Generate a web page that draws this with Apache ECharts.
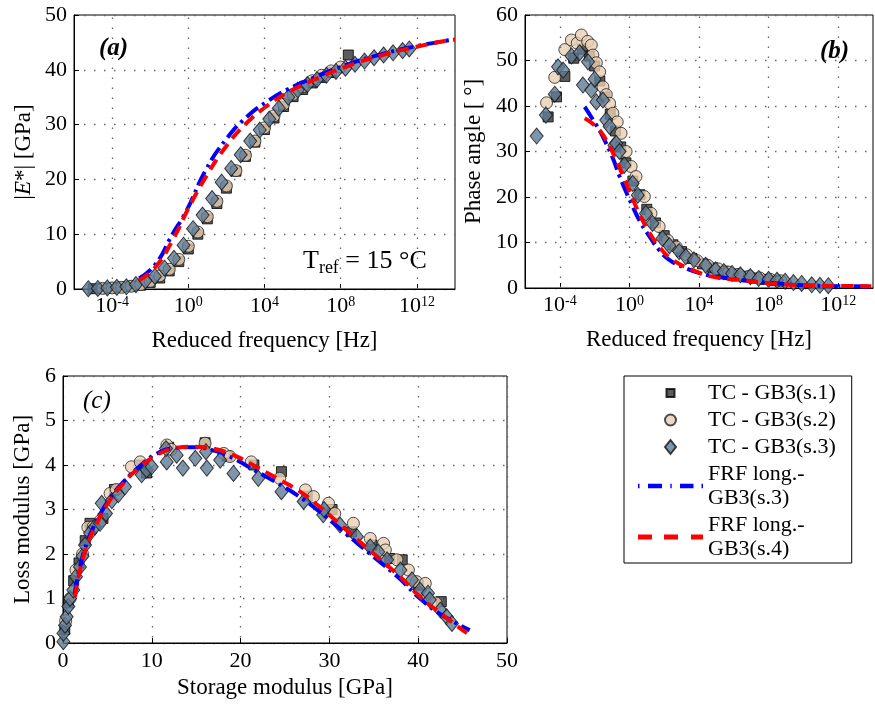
<!DOCTYPE html>
<html><head><meta charset="utf-8">
<script src="https://cdn.jsdelivr.net/npm/echarts@6/dist/echarts.min.js"></script>
<style>html,body{margin:0;padding:0;background:#fff}#c{width:875px;height:704px}</style>
</head><body><div id="c"></div>
<script>
// ---------- tick labels ----------
const freqTickExp = [-4, 0, 4, 8, 12];           // labels 10^n on reduced frequency axes
// ---------- series names ----------
const seriesNames = ['TC - GB3(s.1)', 'TC - GB3(s.2)', 'TC - GB3(s.3)', 'FRF long.-\nGB3(s.3)', 'FRF long.-\nGB3(s.4)'];

// ---------- panel (a): |E*| vs reduced frequency (x = log10 f) ----------
const a_s1_logf = [-5,-4.5,-4,-3.5,-3,-2.5,-2,-1.5,-1,-0.5,0,0.5,1,1.5,2,2.5,3,3.5,4,4.5,5,5.5,6,6.5,7,7.5,8.4];
const a_s1_E    = [0.05,0.1,0.2,0.35,0.5,0.7,1.2,2.0,3.3,5.0,7.3,10.0,12.8,15.6,18.4,21.5,24.2,26.8,29.1,31.2,33.3,35.1,36.4,37.6,38.6,39.5,42.7];
const a_s2_logf = [-4.5,-4,-3.5,-3,-2.5,-2,-1.5,-1,-0.5,0,0.5,1,1.5,2,2.5,3,3.5,4,4.5,5,5.5,6,6.5,7,7.5,8];
const a_s2_E    = [0.1,0.2,0.3,0.5,0.8,1.4,2.4,3.6,5.4,7.8,10.4,13.2,16.0,18.8,21.6,24.4,27.0,29.4,31.6,33.7,35.5,36.9,38.0,39.0,39.8,40.5];
const a_s3_logf = [-5.25,-4.75,-4.25,-3.75,-3.25,-2.75,-2.25,-1.75,-1.25,-0.75,-0.25,0.25,0.75,1.25,1.75,2.25,2.75,3.25,3.75,4.25,4.75,5.25,5.75,6.25,6.75,7.25,7.75,8.25,8.75,9.25,9.75,10.25,10.75,11.25,11.6];
const a_s3_E    = [0.05,0.1,0.2,0.3,0.4,0.8,1.5,2.3,3.8,5.6,8.0,11.0,13.5,16.5,19.5,22.0,24.5,27.0,29.0,31.0,33.0,35.0,36.3,37.3,38.2,39.0,39.7,40.3,41.0,41.6,42.2,42.7,43.1,43.5,43.8];
const a_frf3_logf = [-2.58,-1.7,-0.83,-0.12,0.93,1.98,3.04,4.09,5.14,6.54,8.3,10.2,11.97,13.7,14];
const a_frf3_E    = [1.9,4.6,10.0,14.1,21.8,27.3,31.3,34.1,36.3,38.5,40.9,42.9,44.3,45.4,45.5];
const a_frf4_logf = [-2.58,-1.7,-0.83,0.05,0.93,1.98,3.04,4.09,5.14,6.54,8.3,10.2,11.97,13.7,14];
const a_frf4_E    = [1.6,4.1,8.9,15.0,20.5,26.0,30.2,33.3,35.7,38.1,40.6,42.7,44.2,45.4,45.5];

// ---------- panel (b): phase angle vs reduced frequency ----------
const b_s1_logf = [-4.67,-4.19,-3.71,-3.2,-2.7,-2.3,-2.0,-1.7,-1.4,-1.1,-0.8,-0.5,-0.2,0.2,0.6,1.0,1.5,2.0,2.5,3.0,3.6,4.2,4.8,5.4,6.0,6.6,7.2,7.8,8.4];
const b_s1_ph   = [37.6,42,46.5,50.5,52.5,51,48.8,45.5,42,38.2,34.5,31,27.5,23.5,20.5,17.3,14.3,11.5,9.5,8.0,6.5,5.3,4.4,3.7,3.1,2.6,2.2,1.9,1.6];
const b_s2_logf = [-4.76,-4.29,-3.71,-3.33,-3.0,-2.76,-2.4,-2.19,-2.1,-1.9,-1.71,-1.52,-1.33,-1.14,-0.95,-0.7,-0.48,-0.19,0.1,0.38,0.86,1.24,1.71,2.2,2.7,3.3,3.9,4.5,5.1,5.7,6.3,6.9,7.5,8.1,8.7];
const b_s2_ph   = [40.7,46.3,52.4,54.5,53.8,55.6,54.2,53.4,51.2,49.5,47.5,44.2,42.5,40.6,38.4,36.5,34,30,26.7,24.5,20.1,16.4,13.5,10.5,9.0,7.3,6.0,5.0,4.2,3.5,3.0,2.6,2.2,1.9,1.6];
const b_s3_logf = [-5.33,-4.8,-4.29,-4.1,-3.81,-3.33,-2.86,-2.67,-2.38,-2.19,-2.0,-1.9,-1.52,-1.33,-1.14,-0.86,-0.76,-0.57,-0.29,0.19,0.48,0.95,1.33,1.9,2.3,2.86,3.24,3.71,4.38,4.95,5.43,5.9,6.38,6.95,7.43,8.0,8.48,8.95,9.43,9.9,10.48,10.95,11.43];
const b_s3_ph   = [33.4,38,42.6,48.6,47.9,51,51.7,44.6,49.7,43.5,45.9,40.9,41.3,36.9,35.5,31.4,31.8,30,27,23,20.4,16.4,14.2,10.9,9.3,8.0,6.9,6.2,5.0,4.0,3.6,3.2,2.9,2.5,2.1,1.9,1.7,1.5,1.2,1.0,0.7,0.6,0.5];
const b_frf3_logf = [-2.57,-1.9,-1.52,-0.95,-0.57,0.19,0.7,1.14,1.7,2.29,3.2,4.3,5.5,7,8.5,10,12,14];
const b_frf3_ph   = [39.8,35.8,33.2,28.5,24.6,17.9,14,11.4,8.4,6.2,4.4,3.0,2.2,1.5,1.0,0.6,0.4,0.35];
const b_frf4_logf = [-2.57,-1.9,-1.33,-0.76,-0.19,0.38,0.95,1.71,2.48,3.62,4.76,6.29,8.19,10.1,12,13.9];
const b_frf4_ph   = [37.3,35.4,32.5,28.1,23,17.9,13.5,9.1,6.2,4,2.5,1.8,1.0,0.6,0.45,0.4];

// ---------- panel (c): loss modulus vs storage modulus ----------
const c_s1_E1 = [0.2,0.6,1.2,1.8,2.5,3.04,4.5,5.8,8.7,9.4,11.9,16.0,18.5,21.5,24.6,27.5,30.3,32.5,34.8,36.8,38.2,40.0,42.6];
const c_s1_E2 = [0.3,0.9,1.4,1.8,2.3,2.69,2.8,3.45,4.0,3.82,4.4,4.5,4.2,4.0,3.85,3.3,3.0,2.5,2.2,1.9,1.87,1.3,0.93];
const c_s2_E1 = [0.3,0.8,1.46,2.2,2.8,3.4,4.2,5.3,6.0,7.7,8.7,11.7,12.2,16.0,18.1,18.8,21.2,24.4,27.3,28.2,29.9,30.6,32.7,34.6,36.1,36.3,37.6,38.9,39.8,40.8,42.0];
const c_s2_E2 = [0.5,1.0,1.64,2.0,2.6,2.61,2.75,3.36,3.45,3.96,4.07,4.45,4.35,4.49,4.26,4.19,4.07,3.7,3.44,3.29,3.14,2.91,2.69,2.35,2.24,2.09,1.87,1.64,1.38,1.34,0.9];
const c_s3_E1 = [0.04,0.05,0.23,0.41,0.6,0.79,1.16,1.46,1.91,2.2,2.48,3.04,3.6,4.17,4.36,4.84,5.5,6.23,6.98,8.86,9.43,9.99,11.68,11.6,12.8,13.5,14.9,16.2,16.1,17.7,19.2,22.0,24.6,27.1,29.3,29.4,31.2,33.1,34.6,35.5,36.5,38.0,39.3,40.2,41.1,41.3,42.5,43.2,43.8];
const c_s3_E2 = [0.03,0.22,0.40,0.59,0.82,1.0,1.19,1.49,1.71,1.95,2.2,2.47,2.61,2.69,3.14,2.91,3.2,3.33,3.51,3.78,3.89,3.96,4.07,4.37,4.22,3.93,4.15,3.93,4.3,4.11,3.81,3.7,3.4,3.18,2.88,3.0,2.65,2.39,2.16,2.05,1.87,1.64,1.42,1.19,1.12,0.97,0.74,0.59,0.44];
const c_frf3_E1 = [1.3,1.9,2.7,3.8,5.3,6.8,8.7,10.5,12.4,14.7,16.9,19.2,21.4,24.1,26.7,28.9,31.9,34.9,37.9,40.2,42.5,45.8];
const c_frf3_E2 = [1.1,1.7,2.25,2.75,3.25,3.62,3.98,4.25,4.38,4.4,4.33,4.15,3.9,3.6,3.28,2.95,2.45,1.95,1.45,1.0,0.65,0.29];
const c_frf4_E1 = [1.35,1.91,2.67,3.8,5.29,6.79,8.67,10.55,12.4,14.7,16.9,19.2,21.4,24.1,26.7,28.9,31.9,34.9,37.95,40.2,42.5,45.5];
const c_frf4_E2 = [1.04,1.64,2.16,2.69,3.21,3.59,3.96,4.22,4.37,4.41,4.37,4.22,4.0,3.7,3.4,3.06,2.54,2.02,1.49,1.04,0.67,0.22];

// ---------- build ----------
const FONT = 'Liberation Serif';
const BLUE = '#0000ff', RED = '#ff0000';
const zip = (xs, ys) => xs.map((x, i) => [x, ys[i]]);
const dotStyle = {color: '#666', width: 1.3, type: [1.5, 8.5]};
const txt = (sz) => ({fontSize: sz, fontFamily: FONT, color: '#000'});

function panelSeries(i, s1, s2, s3, f3, f4, logX) {
  const common = {type: 'scatter', xAxisIndex: i, yAxisIndex: i, emphasis: {disabled: true}, silent: true};
  const first = Object.assign({name: seriesNames[0], data: s1, symbol: 'rect', symbolSize: 10,
      itemStyle: {color: '#333', borderColor: '#000', borderWidth: 1}}, common);
  if (logX) {
    first.markLine = {silent: true, symbol: ['none', 'none'], label: {show: false}, animation: false,
      lineStyle: dotStyle, emphasis: {disabled: true}, data: freqTickExp.map(v => ({xAxis: v}))};
  }
  return [
    first,
    Object.assign({name: seriesNames[1], data: s2, symbol: 'circle', symbolSize: 12,
      itemStyle: {color: '#e9cfb3', borderColor: '#222', borderWidth: 1}}, common),
    Object.assign({name: seriesNames[2], data: s3, symbol: 'diamond', symbolSize: [13, 16],
      itemStyle: {color: '#5f7b95', borderColor: '#111', borderWidth: 1}}, common),
    {name: seriesNames[3], type: 'line', xAxisIndex: i, yAxisIndex: i, data: f3, symbol: 'none', smooth: true,
      itemStyle: {color: BLUE}, lineStyle: {color: BLUE, width: 4, type: [15, 5, 3, 5]}, emphasis: {disabled: true}, silent: true},
    {name: seriesNames[4], type: 'line', xAxisIndex: i, yAxisIndex: i, data: f4, symbol: 'none', smooth: true,
      itemStyle: {color: RED}, lineStyle: {color: RED, width: 4, type: [12, 7]}, emphasis: {disabled: true}, silent: true}
  ];
}

function freqAxis(gi) {
  return {
    type: 'value', gridIndex: gi, min: -6, max: 14, interval: 2,
    axisLine: {show: true, onZero: false, lineStyle: {color: '#000', width: 1}},
    axisTick: {show: true, inside: true, length: 5, customValues: freqTickExp, lineStyle: {color: '#000'}},
    axisLabel: {customValues: freqTickExp, margin: 6,
      formatter: v => '{b|10}{s|' + v + '}',
      rich: {b: txt(22), s: Object.assign(txt(14), {verticalAlign: 'top', padding: [0, 0, 8, 0]})}},
    splitLine: {show: false},
    name: 'Reduced frequency [Hz]', nameLocation: 'middle', nameGap: 40, nameTextStyle: txt(23)
  };
}
function valAxis(gi, max, interval, name, gap, rich) {
  return {
    type: 'value', gridIndex: gi, min: 0, max: max, interval: interval,
    axisLine: {show: true, onZero: false, lineStyle: {color: '#000', width: 1}},
    axisTick: {show: true, inside: true, length: 5, lineStyle: {color: '#000'}},
    axisLabel: Object.assign(txt(22), {margin: 7}),
    splitLine: {show: true, lineStyle: dotStyle},
    name: name, nameLocation: 'middle', nameGap: gap,
    nameTextStyle: Object.assign(txt(23), rich ? {rich: rich} : {})
  };
}

// legend icons: 65 x 14 boxes (corner moves fix the box size)
const BOX = 'path://M0,0M65,14';
const legendIcons = [
  BOX + 'M28.5,3h8v8h-8z',
  BOX + 'M27,7a5.5,5.5 0 1,0 11,0a5.5,5.5 0 1,0 -11,0z',
  BOX + 'M32.5,0L38,7L32.5,14L27,7z',
  BOX + 'M0,4.8h1.5v4.4h-1.5zM10,4.8h14v4.4h-14zM32.3,4.8h1.4v4.4h-1.4zM42,4.8h13.5v4.4h-13.5zM63.5,4.8h1.5v4.4h-1.5z',
  BOX + 'M0,4.5h14v5h-14zM26,4.5h14v5h-14zM53,4.5h12v5h-12z'
];
const legendData = seriesNames.map((n, k) => k < 3 ? {name: n, icon: legendIcons[k]}
  : {name: n, icon: legendIcons[k], itemStyle: {color: k === 3 ? BLUE : RED, borderWidth: 0}});

const option = {
  animation: false,
  backgroundColor: '#fff',
  grid: [
    {left: 74, top: 15, width: 381, height: 274, show: true, borderColor: '#000', borderWidth: 1},
    {left: 525, top: 15, width: 348, height: 273, show: true, borderColor: '#000', borderWidth: 1},
    {left: 63, top: 376, width: 444, height: 267, show: true, borderColor: '#000', borderWidth: 1}
  ],
  xAxis: [freqAxis(0), freqAxis(1), valAxis(2, 50, 10, 'Storage modulus [GPa]', 33)],
  yAxis: [
    valAxis(0, 50, 10, '|{i|E}*| [GPa]', 39, {i: Object.assign(txt(23), {fontStyle: 'italic'})}),
    valAxis(1, 60, 10, 'Phase angle [ °]', 40),
    valAxis(2, 6, 1, 'Loss modulus [GPa]', 23)
  ],
  legend: {
    orient: 'vertical', left: 624, top: 376, data: legendData, selectedMode: false,
    itemWidth: 65, itemHeight: 14, itemGap: 3, padding: [5, 16, 2, 13],
    borderColor: '#000', borderWidth: 1, backgroundColor: '#fff',
    textStyle: Object.assign(txt(22), {lineHeight: 24})
  },
  graphic: [
    {type: 'text', left: 99, top: 36, style: {text: '(a)', font: 'italic bold 25px "Liberation Serif"', fill: '#000'}},
    {type: 'text', left: 820, top: 39, style: {text: '(b)', font: 'italic bold 25px "Liberation Serif"', fill: '#000'}},
    {type: 'text', left: 83, top: 389, style: {text: '(c)', font: 'italic 25px "Liberation Serif"', fill: '#000'}},
    {type: 'text', left: 303, top: 248, style: {
      text: '{t|T}{s|ref}{t| = 15 °C}',
      rich: {t: {fontSize: 26, fontFamily: FONT, fill: '#000'},
             s: {fontSize: 18, fontFamily: FONT, fill: '#000', verticalAlign: 'bottom', padding: [14, 0, 0, 0]}}}}
  ],
  series: [].concat(
    panelSeries(0, zip(a_s1_logf, a_s1_E), zip(a_s2_logf, a_s2_E), zip(a_s3_logf, a_s3_E), zip(a_frf3_logf, a_frf3_E), zip(a_frf4_logf, a_frf4_E), true),
    panelSeries(1, zip(b_s1_logf, b_s1_ph), zip(b_s2_logf, b_s2_ph), zip(b_s3_logf, b_s3_ph), zip(b_frf3_logf, b_frf3_ph), zip(b_frf4_logf, b_frf4_ph), true),
    panelSeries(2, zip(c_s1_E1, c_s1_E2), zip(c_s2_E1, c_s2_E2), zip(c_s3_E1, c_s3_E2), zip(c_frf3_E1, c_frf3_E2), zip(c_frf4_E1, c_frf4_E2), false)
  )
};
const chart = echarts.init(document.getElementById('c'), null, {renderer: 'canvas'});
chart.setOption(option);
</script></body></html>
